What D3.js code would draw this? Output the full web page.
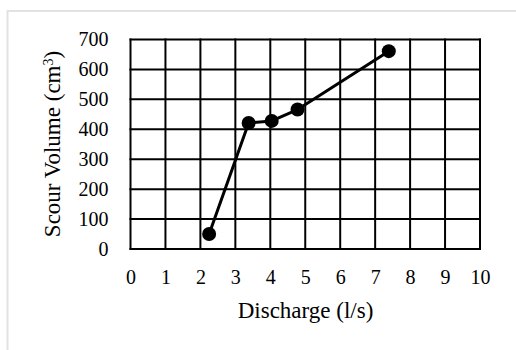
<!DOCTYPE html>
<html>
<head>
<meta charset="utf-8">
<script src="https://cdn.jsdelivr.net/npm/d3@7"></script>
<style>
  body { margin: 0; background: #fff; }
  svg { display: block; font-family: "Liberation Serif", "Times New Roman", serif; }
</style>
</head>
<body>
<div id="chart"></div>
<script>
// Discharge (l/s) vs scour volume (cm3)
const discharge = [2.25, 3.38, 4.04, 4.78, 7.39];
const scourVolume = [50, 421, 428, 466, 661];
const xTicks = [0, 1, 2, 3, 4, 5, 6, 7, 8, 9, 10];
const yTicks = [0, 100, 200, 300, 400, 500, 600, 700];

const W = 516, H = 350;
const margin = { top: 39.5, right: 36, bottom: 101, left: 130.5 };
const width = W - margin.left - margin.right;
const height = H - margin.top - margin.bottom;

const svgRoot = d3.select('#chart').append('svg')
    .attr('width', W).attr('height', H);

// outer frame (light grey, top + left only)
svgRoot.append('path')
    .attr('d', `M7.5,${H} V11 H${W}`)
    .attr('fill', 'none').attr('stroke', '#e2e2e2').attr('stroke-width', 2);

const svg = svgRoot.append('g')
    .attr('transform', `translate(${margin.left},${margin.top})`);

const x = d3.scaleLinear().domain([0, 10]).range([0, width]);
const y = d3.scaleLinear().domain([0, 700]).range([height, 0]);

// grid
svg.append('g').selectAll('line')
    .data(xTicks).join('line')
    .attr('x1', d => x(d)).attr('x2', d => x(d))
    .attr('y1', -1).attr('y2', height + 1)
    .attr('stroke', '#000').attr('stroke-width', 2);

svg.append('g').selectAll('line')
    .data(yTicks).join('line')
    .attr('x1', -1).attr('x2', width + 1)
    .attr('y1', d => y(d)).attr('y2', d => y(d))
    .attr('stroke', '#000').attr('stroke-width', 2);

// axes (labels only)
const xAxis = svg.append('g')
    .attr('transform', `translate(0,${height})`)
    .call(d3.axisBottom(x).tickValues(xTicks).tickSize(0).tickPadding(21));
const yAxis = svg.append('g')
    .call(d3.axisLeft(y).tickValues(yTicks).tickSize(0).tickPadding(22));
[xAxis, yAxis].forEach(a => {
    a.select('.domain').remove();
    a.selectAll('text')
        .attr('font-family', '"Liberation Serif", "Times New Roman", serif')
        .attr('font-size', '20px').attr('fill', '#000');
});

// series
const pts = discharge.map((d, i) => [d, scourVolume[i]]);
svg.append('path')
    .datum(pts)
    .attr('fill', 'none').attr('stroke', '#000').attr('stroke-width', 3)
    .attr('stroke-linejoin', 'round')
    .attr('d', d3.line().x(d => x(d[0])).y(d => y(d[1])));

svg.selectAll('circle')
    .data(pts).join('circle')
    .attr('cx', d => x(d[0])).attr('cy', d => y(d[1]))
    .attr('r', 7).attr('fill', '#000');

// axis titles
svg.append('text')
    .attr('x', 305.5 - margin.left).attr('y', height + 69)
    .attr('text-anchor', 'middle').attr('font-size', '23px')
    .text('Discharge (l/s)');

const yt = svg.append('text')
    .attr('transform', `translate(${52 - margin.left},${144 - margin.top}) rotate(-90)`)
    .attr('text-anchor', 'middle').attr('dy', '0.35em').attr('font-size', '23px');
yt.append('tspan').text('Scour Volume (cm');
yt.append('tspan').attr('baseline-shift', 'super').attr('font-size', '14px').text('3');
yt.append('tspan').text(')');
</script>
</body>
</html>
